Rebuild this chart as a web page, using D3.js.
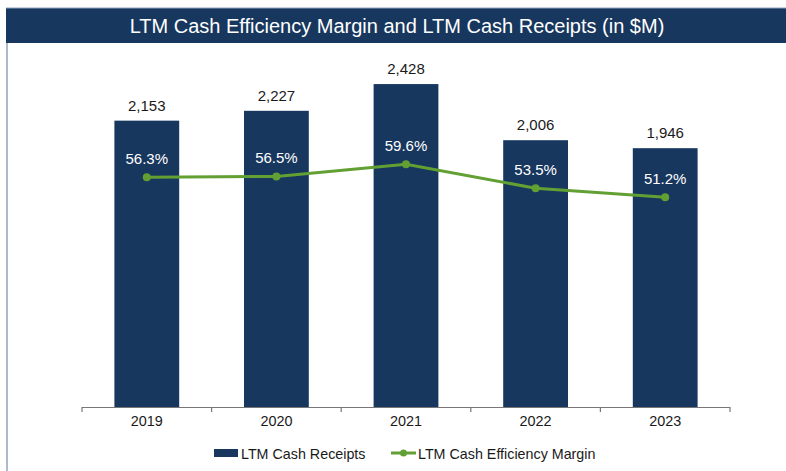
<!DOCTYPE html>
<html><head><meta charset="utf-8">
<script src="https://cdn.jsdelivr.net/npm/d3@7"></script>
<style>body{margin:0;background:#fff}svg{display:block}text{font-family:"Liberation Sans",Arial,sans-serif}</style>
</head><body><svg id="c" width="786" height="471"></svg>
<script>
const years = ["2019","2020","2021","2022","2023"];
const receipts = [2153, 2227, 2428, 2006, 1946];
const margins = [56.3, 56.5, 59.6, 53.5, 51.2];
const title = "LTM Cash Efficiency Margin and LTM Cash Receipts (in $M)";
const seriesNames = ["LTM Cash Receipts", "LTM Cash Efficiency Margin"];

const navy = "#17375e", green = "#62a033";
const svg = d3.select("#c");

// frame
svg.append("line").attr("x1",7).attr("x2",7).attr("y1",8).attr("y2",471).attr("stroke","#8fa3bb").attr("stroke-width",1.5);
svg.append("rect").attr("x",6).attr("y",8).attr("width",780).attr("height",35).attr("fill",navy);
svg.append("line").attr("x1",6).attr("x2",786).attr("y1",8).attr("y2",8).attr("stroke","#8fa3bb");
svg.append("text").attr("x",397).attr("y",32.5).attr("text-anchor","middle").attr("fill","#fff")
  .attr("font-size",20).text(title);

const x = d3.scaleBand().domain(years).range([82,730]).paddingInner(0.5).paddingOuter(0.25);
const y = d3.scaleLinear().domain([0,2500]).range([407,74.5]);
const y2 = d3.scaleLinear().domain([0,100]).range([398.5,5.5]);
const cx = d => x(d) + x.bandwidth()/2;

svg.selectAll(".bar").data(years).join("rect")
  .attr("x", d=>x(d)).attr("width", x.bandwidth())
  .attr("y",(d,i)=>y(receipts[i])).attr("height",(d,i)=>y(0)-y(receipts[i]))
  .attr("fill",navy);

svg.selectAll(".vl").data(years).join("text")
  .attr("x",cx).attr("y",(d,i)=>y(receipts[i])-10)
  .attr("text-anchor","middle").attr("font-size",15).attr("fill","#1a1a1a")
  .text((d,i)=>d3.format(",")(receipts[i]));

// axis
const ax = svg.append("g").attr("transform","translate(0,407)")
  .call(d3.axisBottom(x).tickSize(0).tickPadding(8.5));
ax.select(".domain").remove();
ax.selectAll("text").attr("font-size",14.4).attr("fill","#1a1a1a").attr("font-family","Liberation Sans, Arial, sans-serif");
svg.append("line").attr("x1",82).attr("x2",730).attr("y1",407.5).attr("y2",407.5).attr("stroke","#777").attr("stroke-width",1.2);
const edges = [x.range()[0]].concat(years.map(d=>x(d)+x.bandwidth()+x.step()*x.paddingInner()/2).slice(0,4)).concat([x.range()[1]]);
svg.selectAll(".tk").data(edges).join("line")
  .attr("x1",d=>d).attr("x2",d=>d).attr("y1",407).attr("y2",412).attr("stroke","#777").attr("stroke-width",1.2);

// line
const line = d3.line().x((d,i)=>cx(years[i])).y(d=>y2(d));
svg.append("path").datum(margins).attr("d",line).attr("fill","none").attr("stroke",green).attr("stroke-width",3);
svg.selectAll(".pt").data(margins).join("circle")
  .attr("cx",(d,i)=>cx(years[i])).attr("cy",d=>y2(d)).attr("r",4).attr("fill",green);
svg.selectAll(".pl").data(margins).join("text")
  .attr("x",(d,i)=>cx(years[i])).attr("y",d=>y2(d)-13.5)
  .attr("text-anchor","middle").attr("font-size",15).attr("fill","#fff")
  .text(d=>d.toFixed(1)+"%");

// legend
const lg = svg.append("g");
lg.append("rect").attr("x",214).attr("y",449).attr("width",24).attr("height",8).attr("fill",navy);
lg.append("text").attr("x",241).attr("y",459).attr("font-size",14.3).attr("fill","#1a1a1a").text(seriesNames[0]);
lg.append("line").attr("x1",391).attr("x2",416).attr("y1",453).attr("y2",453).attr("stroke",green).attr("stroke-width",3);
lg.append("circle").attr("cx",403.5).attr("cy",453).attr("r",3.5).attr("fill",green);
lg.append("text").attr("x",418).attr("y",459).attr("font-size",14.3).attr("fill","#1a1a1a").text(seriesNames[1]);
</script></body></html>
